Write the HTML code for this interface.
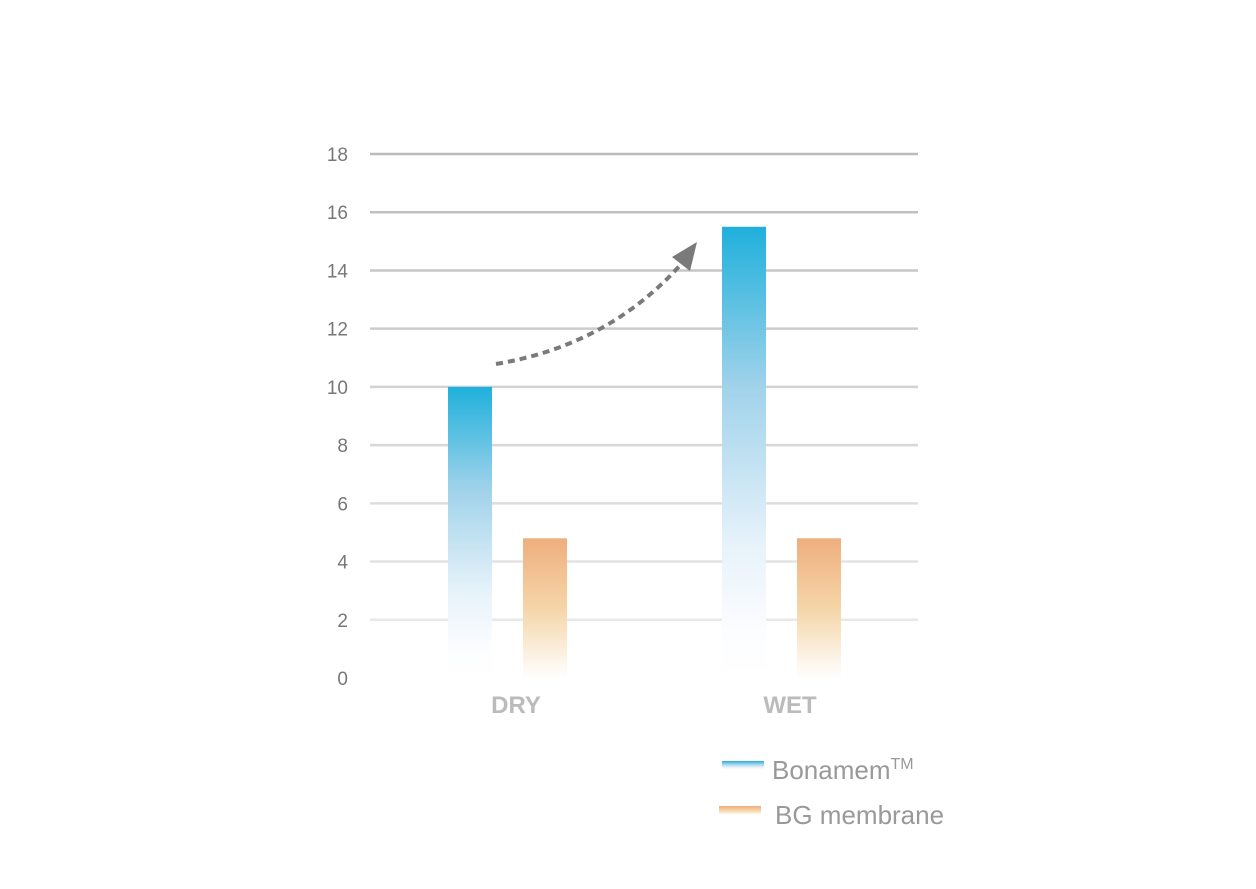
<!DOCTYPE html>
<html><head><meta charset="utf-8"><style>
body{margin:0;background:#fff;}
svg{display:block;font-family:"Liberation Sans",sans-serif;}
</style></head><body>
<svg id="chart" width="1256" height="889" viewBox="0 0 1256 889">
<defs>
<linearGradient id="gb" x1="0" y1="0" x2="0" y2="1"><stop offset="0" stop-color="#1fb0dc"/><stop offset="0.35" stop-color="#9fd2ea"/><stop offset="0.7" stop-color="#e6f2fa"/><stop offset="0.9" stop-color="#fcfdff"/><stop offset="1" stop-color="#fff"/></linearGradient>
<linearGradient id="go" x1="0" y1="0" x2="0" y2="1"><stop offset="0" stop-color="#efae7e"/><stop offset="0.5" stop-color="#f5d5a8"/><stop offset="1" stop-color="#fff"/></linearGradient>
</defs>
<g id="grid"></g><g id="bars"></g>
<path d="M496,364 Q610,345 683,262" fill="none" stroke="#7a7a7a" stroke-width="4" stroke-dasharray="7,5"/>
<polygon points="697,242 672,257 690,271" fill="#7a7a7a"/>
<g>
<rect x="722" y="761" width="42" height="9" fill="url(#gb)"/>
<text x="772" y="779" font-size="26" fill="#999">Bonamem<tspan font-size="16" dy="-10">TM</tspan></text>
<rect x="719" y="806" width="42" height="9" fill="url(#go)"/>
<text x="775" y="824" font-size="26" fill="#999">BG membrane</text>
</g>
</svg>
<script>
const categories=["DRY","WET"];
const bonamem=[10,15.5];
const bgMembrane=[4.8,4.8];
const ticks=[0,2,4,6,8,10,12,14,16,18];
const NS="http://www.w3.org/2000/svg";
const y=v=>678-v*(524/18);
const grid=document.getElementById('grid'),bars=document.getElementById('bars');
function mk(t,a,p){const e=document.createElementNS(NS,t);for(const k in a)e.setAttribute(k,a[k]);p.appendChild(e);return e;}
ticks.forEach((t,i)=>{
 if(t>0){const l=mk('line',{x1:370,x2:918,y1:y(t),y2:y(t),stroke:'#bbb','stroke-width':2.5,'stroke-opacity':0.25+0.75*i/9},grid);
 
 }
 const tx=mk('text',{x:348,y:y(t)+7,'text-anchor':'end','font-size':19,fill:'#777'},grid);
 tx.textContent=t;
 
 
});
categories.forEach((c,i)=>{
 const cx=507+i*274;
 const b=mk('rect',{x:cx-59,y:y(bonamem[i]),width:44,height:y(0)-y(bonamem[i]),fill:'url(#gb)'},bars);
 
 
 const o=mk('rect',{x:cx+16,y:y(bgMembrane[i]),width:44,height:y(0)-y(bgMembrane[i]),fill:'url(#go)'},bars);
 
 
 const t=mk('text',{x:cx+9,y:713,'text-anchor':'middle','font-size':24,'font-weight':'bold',fill:'#bbb'},bars);
 t.textContent=c;
 
 
});
</script>
</body></html>
